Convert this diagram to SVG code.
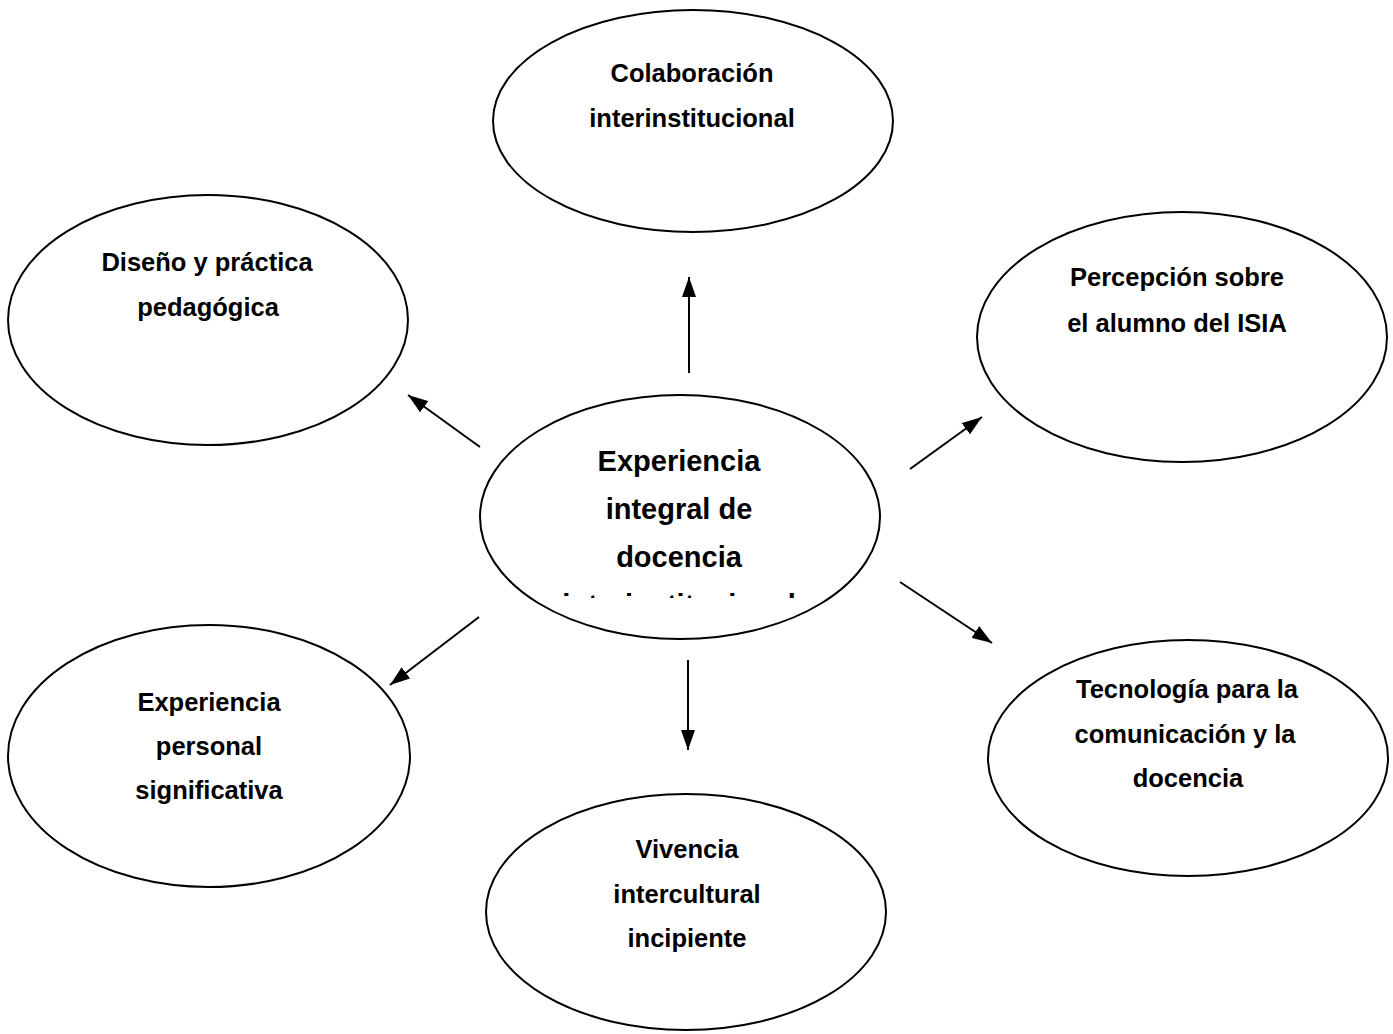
<svg xmlns="http://www.w3.org/2000/svg" width="1393" height="1034" viewBox="0 0 1393 1034">
<style>
.n ellipse{fill:#fff;stroke:#000;stroke-width:2}
.t{font-family:"Liberation Sans",Arial,sans-serif;font-weight:bold;font-size:25.5px;text-anchor:middle;fill:#000}
.c{font-size:29px}
.e line{stroke:#000;stroke-width:2}
</style>
<defs>
<marker id="ah" markerUnits="userSpaceOnUse" markerWidth="20" markerHeight="14" refX="20" refY="7" orient="auto"><path d="M0,0 L20,7 L0,14 z" fill="#000"/></marker>
<clipPath id="cc"><rect x="470" y="380" width="430" height="218"/></clipPath>
</defs>
<rect width="1393" height="1034" fill="#fff"/>
<g id="n-top" class="n"><ellipse cx="693" cy="121" rx="200" ry="111"/><text class="t" x="692" y="82">Colaboración</text><text class="t" x="692" y="127">interinstitucional</text></g>
<g id="n-lt" class="n"><ellipse cx="208" cy="320" rx="200" ry="125"/><text class="t" x="207" y="271">Diseño y práctica</text><text class="t" x="208" y="316">pedagógica</text></g>
<g id="n-rt" class="n"><ellipse cx="1182" cy="337" rx="205" ry="125"/><text class="t" x="1177" y="286">Percepción sobre</text><text class="t" x="1177" y="332">el alumno del ISIA</text></g>
<g id="n-c" class="n"><ellipse cx="680" cy="517" rx="200" ry="122"/><g clip-path="url(#cc)"><text class="t c" x="679" y="471">Experiencia</text><text class="t c" x="679" y="519">integral de</text><text class="t c" x="679" y="567">docencia</text><text class="t c" x="679" y="615">interinstitucional</text></g></g>
<g id="n-lb" class="n"><ellipse cx="209" cy="756" rx="201" ry="131"/><text class="t" x="209" y="711">Experiencia</text><text class="t" x="209" y="755">personal</text><text class="t" x="209" y="799">significativa</text></g>
<g id="n-b" class="n"><ellipse cx="686" cy="912" rx="200" ry="118"/><text class="t" x="687" y="858">Vivencia</text><text class="t" x="687" y="903">intercultural</text><text class="t" x="687" y="947">incipiente</text></g>
<g id="n-rb" class="n"><ellipse cx="1188" cy="758" rx="200" ry="118"/><text class="t" x="1187" y="698">Tecnología para la</text><text class="t" x="1185" y="743">comunicación y la</text><text class="t" x="1188" y="787">docencia</text></g>
<g id="edges" class="e">
<line x1="689" y1="373" x2="689" y2="277" marker-end="url(#ah)"/>
<line x1="480" y1="447" x2="408" y2="395" marker-end="url(#ah)"/>
<line x1="910" y1="469" x2="982" y2="417" marker-end="url(#ah)"/>
<line x1="900" y1="582" x2="992" y2="643" marker-end="url(#ah)"/>
<line x1="479" y1="617" x2="390" y2="685" marker-end="url(#ah)"/>
<line x1="688" y1="660" x2="688" y2="750" marker-end="url(#ah)"/>
</g>
</svg>
